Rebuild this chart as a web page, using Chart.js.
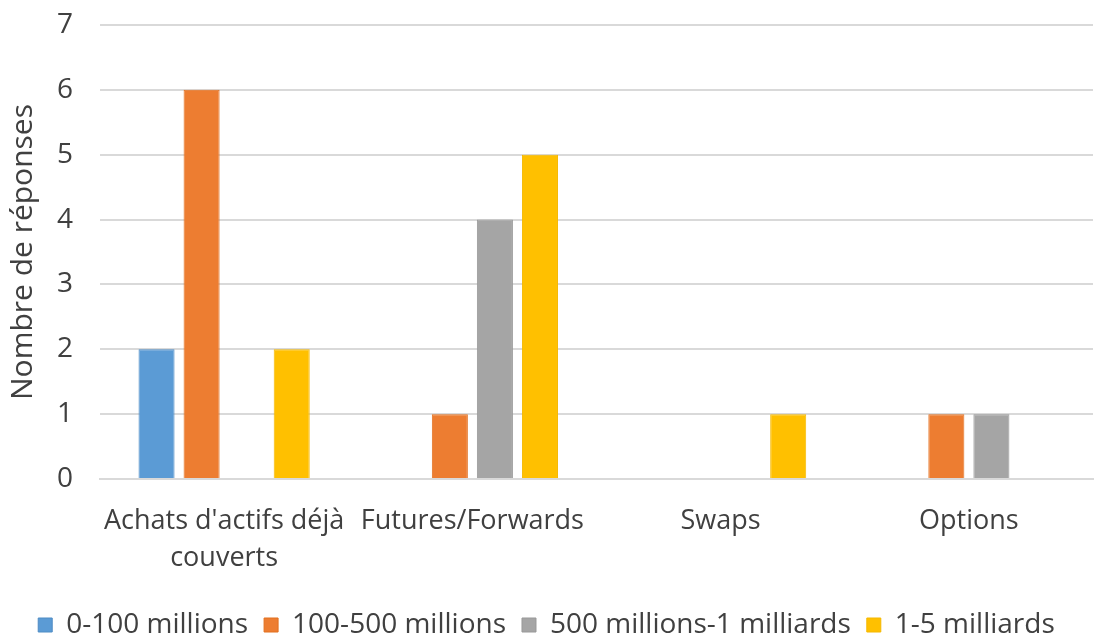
<!DOCTYPE html>
<html>
<head>
<meta charset="utf-8">
<script src="https://cdn.jsdelivr.net/npm/chart.js@4"></script>
<style>
  html, body { margin: 0; padding: 0; background: #ffffff; }
  #wrap { width: 1095px; height: 638px; position: relative; }
</style>
</head>
<body>
<div id="wrap"><canvas id="c" width="1095" height="638"></canvas></div>
<script>
// Instruments de couverture, nombre de réponses par taille d'entreprise
const categories = [["Achats d'actifs déjà", "couverts"], "Futures/Forwards", "Swaps", "Options"];
const seriesNames = ["0-100 millions", "100-500 millions", "500 millions-1 milliards", "1-5 milliards"];
const s0to100m = [2, 0, 0, 0];
const s100to500m = [6, 1, 0, 1];
const s500mTo1md = [0, 4, 0, 1];
const s1to5md = [2, 5, 1, 0];
const yTicks = [0, 1, 2, 3, 4, 5, 6, 7];

const fills = ["#5B9BD5", "#ED7D31", "#A5A5A5", "#FFC000"];
const edges = ["#4F8CC4", "#E2701F", "#999999", "#F5B800"];
const values = [s0to100m, s100to500m, s500mTo1md, s1to5md];

const font = "'Open Sans', 'Liberation Sans', sans-serif";

new Chart(document.getElementById('c'), {
  type: 'bar',
  data: {
    labels: categories,
    datasets: values.map((v, i) => ({
      label: seriesNames[i],
      data: v,
      backgroundColor: fills[i],
      borderColor: edges[i],
      borderWidth: 1,
      categoryPercentage: 0.726,
      barPercentage: 0.8
    }))
  },
  options: {
    responsive: false,
    animation: false,
    layout: { padding: { top: 25, right: 2, left: 0, bottom: -11 } },
    plugins: {
      legend: {
        position: 'bottom',
        labels: {
          boxWidth: 14, boxHeight: 14, padding: 16,
          color: '#404040',
          font: { family: font, size: 28 }
        }
      },
      tooltip: { enabled: false }
    },
    scales: {
      x: {
        grid: { display: false },
        border: { display: true, color: '#D9D9D9', width: 2 },
        ticks: {
          color: '#404040', padding: 16,
          maxRotation: 0, autoSkip: false,
          font: { family: font, size: 27, lineHeight: 1.37 }
        },
        afterFit: s => { s.height = 116; }
      },
      y: {
        min: 0, max: 7,
        afterBuildTicks: s => { s.ticks = yTicks.map(v => ({ value: v })); },
        // invisible tick marks keep the labels clear of the plot edge
        grid: { color: '#D9D9D9', lineWidth: 2, drawTicks: true, tickLength: 27, tickColor: 'rgba(0,0,0,0)' },
        border: { display: false },
        ticks: {
          color: '#404040', padding: 0,
          font: { family: font, size: 28 }
        },
        title: {
          display: true, text: 'Nombre de réponses',
          color: '#404040', padding: { top: 5, bottom: 0 },
          font: { family: font, size: 30 }
        },
        afterFit: s => { s.width = 100; }
      }
    }
  }
});
</script>
</body>
</html>
